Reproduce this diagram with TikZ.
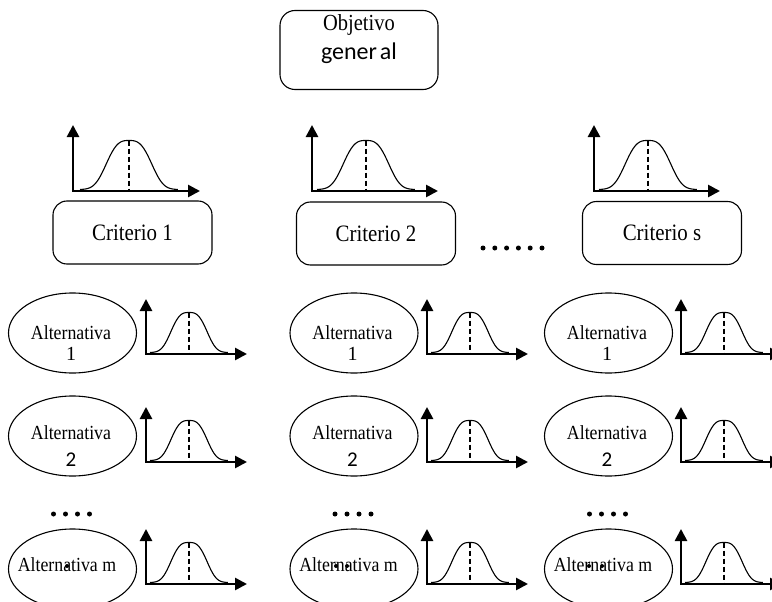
\documentclass[tikz,border=0pt]{standalone}
\usepackage{fontspec}
\usepackage{graphicx}
\setmainfont{Liberation Serif}
\newfontfamily\carlito{Carlito}
\usetikzlibrary{arrows.meta,shapes.geometric}
\newcommand\narrowtxt[1]{\scalebox{0.89}[1]{#1}}
\tikzset{
 critbox/.style={draw, line width=1.1pt, rounded corners=14pt, minimum width=159pt, minimum height=63pt, inner sep=0pt},
 altell/.style={draw, ellipse, line width=1.1pt, minimum width=128pt, minimum height=80pt, inner sep=0pt},
 axisline/.style={line width=2.6pt, {Triangle[width=12pt,length=12pt]}-{Triangle[width=12pt,length=12pt]}},
 bellcurve/.style={line width=1.1pt},
 peakline/.style={line width=2pt, dash pattern=on 5pt off 3pt},
 crittext/.style={font=\fontsize{23.5}{26}\selectfont, inner sep=0pt},
 alttext/.style={font=\fontsize{20}{23}\selectfont, inner sep=0pt},
 bigdot/.style={fill, circle, minimum size=5pt, inner sep=0pt},
 smalldot/.style={fill, circle, minimum size=4pt, inner sep=0pt},
}
\newcommand\bellchart[7]{%
 \begin{scope}[shift={(#1,#2)}]
  \draw[axisline] (0,-#4) -- (0,0) -- (#3,0);
  \draw[bellcurve] plot[domain=-1:1,samples=90,smooth] ({#5+#7*\x},{-1.5-#6*exp(-6.5*pow(abs(\x),3))});
  \draw[peakline] (#5,-#6-1.5) -- (#5,-1.5);
 \end{scope}}
\begin{document}
\begin{tikzpicture}[x=1pt,y=-1pt]
\clip (0,0) rectangle (772,602);
\fill[white] (0,0) rectangle (772,602);
% objective
\node[critbox, minimum width=158pt, minimum height=79pt, rounded corners=15pt] (obj) at (359,50) {};
\node[font=\fontsize{23}{26}\selectfont, inner sep=0pt] (objt1) at (359,25) {\narrowtxt{Objetivo}};
\node[font=\carlito\fontsize{24}{27}\selectfont, inner sep=0pt] (objt2) at (359,53) {gener\kern0.12em al};
% criteria charts
\bellchart{73}{191}{127}{66}{56}{49}{49}
\bellchart{312}{191}{126}{66}{54}{49}{49}
\bellchart{594}{191}{126}{66}{54}{49}{49}
% criteria boxes
\node[critbox] (c1) at (132.5,232.5) {};
\node[crittext] (c1t) at (c1) {\narrowtxt{Criterio 1}};
\node[critbox] (c2) at (376,233.5) {};
\node[crittext] (c2t) at (c2) {\narrowtxt{Criterio 2}};
\node[critbox] (cs) at (662,233) {};
\node[crittext] (cst) at (cs) {\narrowtxt{Criterio s}};
\foreach \i in {0,...,5} \node[bigdot] (td\i) at (483+11.8*\i,248) {};
% alternatives
\foreach \cx/\gx/\col in {72.5/146/1, 354/427/2, 608.5/681/3}{
  \node[altell] (a1\col) at (\cx,333) {};
  \node[alttext] (a1\col t) at (\cx-1.5,333) {\narrowtxt{Alternativa}};
  \node[alttext] (a1\col n) at (\cx-1.5,354) {1};
  \bellchart{\gx}{354}{101}{55}{43}{40}{39}
  \node[altell] (a2\col) at (\cx,436) {};
  \node[alttext] (a2\col t) at (\cx-1.5,433) {\narrowtxt{Alternativa}};
  \node[alttext, font=\carlito\fontsize{21}{23}\selectfont] (a2\col n) at (\cx-1.5,460) {2};
  \bellchart{\gx}{462}{101}{55}{43}{40}{39}
  \node[altell] (am\col) at (\cx,569) {};
  \node[alttext] (am\col t) at (\cx-5.5,565) {\narrowtxt{Alternativa m}};
  \bellchart{\gx}{584}{101}{55}{43}{40}{39}
  \foreach \j in {0,...,3} \node[bigdot] (md\col\j) at (\cx-19+12*\j,514) {};
}
% stray dots
\node[smalldot] (s1) at (67,566) {};
\node[smalldot] (s2) at (336,566) {};
\node[smalldot] (s3) at (347,566) {};
\node[smalldot] (s4) at (589,566) {};
\node[smalldot] (s5) at (602,566) {};
\end{tikzpicture}
\end{document}
